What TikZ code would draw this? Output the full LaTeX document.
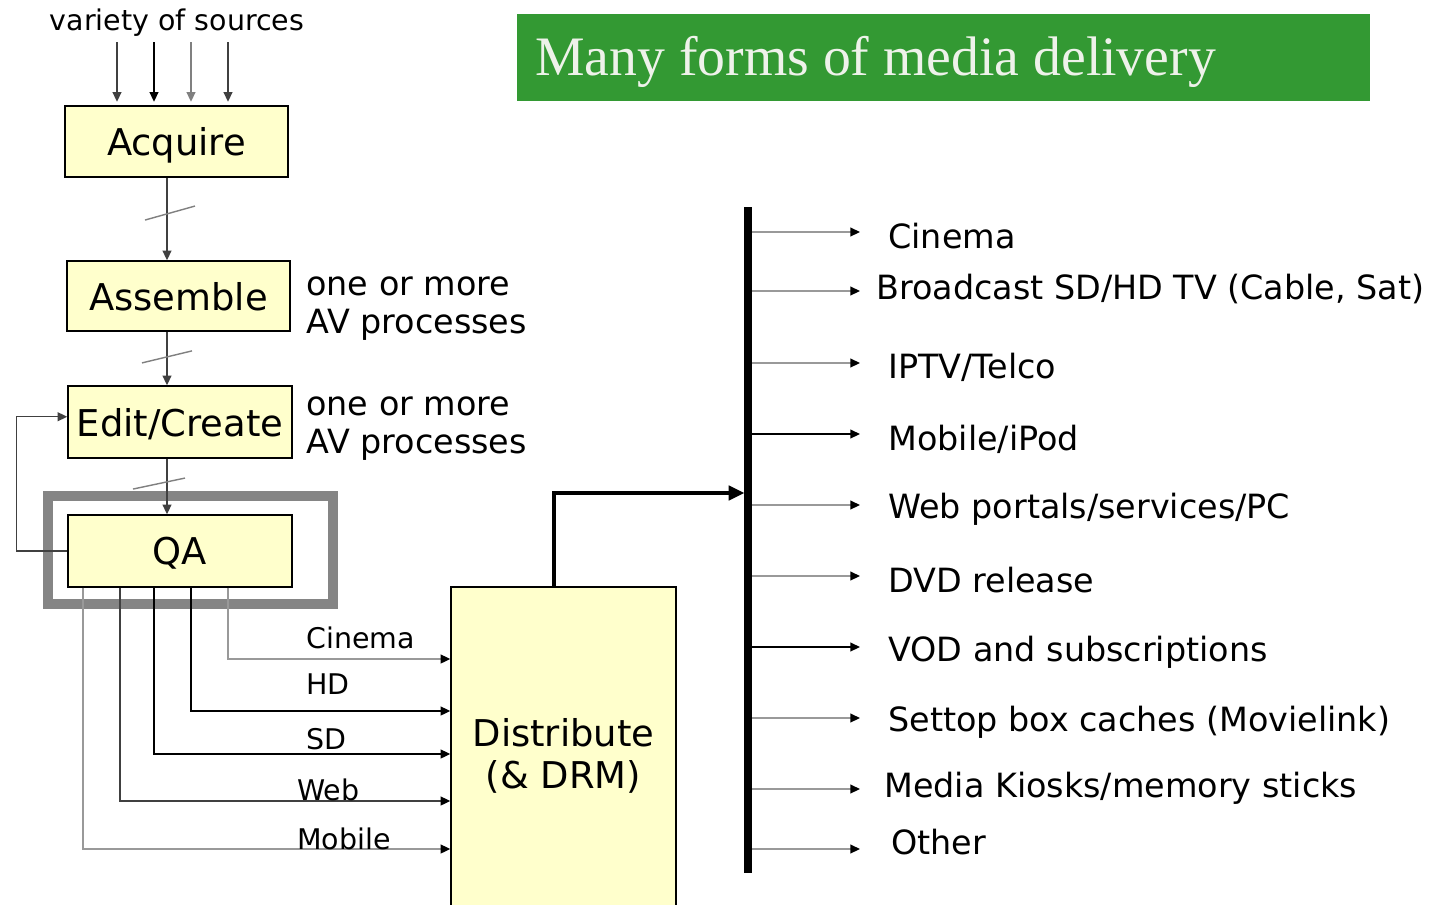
\documentclass[tikz,border=0pt]{standalone}
\usepackage{fontspec}
\setmainfont{DejaVu Sans}
\newfontfamily\titlefont{Liberation Serif}
\usetikzlibrary{arrows.meta}
\definecolor{boxyellow}{HTML}{FFFFCC}
\definecolor{titlegreen}{HTML}{339933}
\definecolor{linegray}{HTML}{999999}
\definecolor{framegray}{HTML}{858585}
\definecolor{titletext}{HTML}{EEF2EA}

\begin{document}
\begin{tikzpicture}[x=0.02cm, y=-0.02cm,
  >={Triangle[length=5.5pt,width=5pt]},
  box/.style={draw, line width=0.8pt, fill=boxyellow, inner sep=0pt, text depth=0pt, font=\fontsize{21}{24}\selectfont},
  flow/.style={->, line width=0.8pt},
  tap/.style={-{Triangle[length=5.5pt,width=5pt,color=black]}, line width=0.9pt},
  slash/.style={line width=0.8pt, gray},
  lbl/.style={inner sep=0pt, font=\fontsize{19}{21.5}\selectfont},
  small/.style={inner sep=0pt, font=\fontsize{16.2}{19}\selectfont}]

  \useasboundingbox (0,0) rectangle (1438,904);
  \fill[white] (0,0) rectangle (1438,904);

  % title
  \fill[titlegreen] (517,14) rectangle (1370,101);
  \node[anchor=west, inner sep=0pt, text=titletext, font=\titlefont\fontsize{31.7}{36}\selectfont] (title) at (535,62) {Many forms of media delivery};

  % pipeline boxes
  \node[small, anchor=base] (sources) at (177,30) {variety of sources};
  \node[box, minimum width=4.46cm, minimum height=1.42cm] (acquire) at (176.5,141.5) {Acquire};
  \node[box, minimum width=4.46cm, minimum height=1.40cm] (assemble) at (178.5,296) {Assemble};
  \node[box, minimum width=4.48cm, minimum height=1.44cm] (edit) at (180,422) {Edit/Create};
  \node[box, minimum width=4.48cm, minimum height=1.44cm] (qa) at (180,551) {QA};
  \node[box, minimum width=4.5cm, minimum height=6.66cm, align=center, font=\fontsize{21}{23.5}\selectfont] (dist) at (563.5,753.5) {Distribute\\(\& DRM)};

  \node[lbl, anchor=west, align=left] (note1) at (306,309) {one or more\\AV processes};
  \node[lbl, anchor=west, align=left] (note2) at (306,429) {one or more\\AV processes};

  % QA highlight
  \draw[framegray, line width=5.7pt] (48,496) rectangle (333,604);

  % sources into Acquire
  \foreach \x/\c [count=\i] in {117/darkgray, 154/black, 191/gray, 228/darkgray} {
    \coordinate (s\i) at (\x,42);
    \draw[flow, \c] (s\i) -- ([yshift=2pt]s\i |- acquire.north);
  }

  % main chain
  \coordinate (spine) at (167,0);
  \draw[flow, darkgray] (acquire.south -| spine) -- coordinate[pos=0.44] (cut1) (assemble.north -| spine);
  \draw[slash] ([shift={(-22,6)}]cut1) -- ([shift={(28,-8)}]cut1);
  \draw[flow, darkgray] (assemble.south -| spine) -- coordinate[pos=0.47] (cut2) (edit.north -| spine);
  \draw[slash] ([shift={(-25,6)}]cut2) -- ([shift={(25,-6)}]cut2);
  \draw[flow, darkgray] (edit.south -| spine) -- coordinate[pos=0.42] (cut3) (qa.north -| spine);
  \draw[slash] ([shift={(-34,7)}]cut3) -- ([shift={(18,-4)}]cut3);

  % feedback
  \draw[flow, darkgray] (qa.west) -- ++(-51,0) |- ([yshift=3pt]edit.west);

  % QA outputs into Distribute
  \foreach \x/\y/\by/\lx/\lab/\c [count=\i] in {228/659/648/306/Cinema/linegray, 191/711/694/306/HD/black, 154/754/749/306/SD/black, 120/801/800/297/Web/darkgray, 83/849/849/297/Mobile/linegray} {
    \coordinate (t\i) at (\x,\y);
    \draw[tap, \c] (t\i |- qa.south) -- (t\i) -- (t\i -| dist.west);
    \node[small, anchor=base west] (in\i) at (\lx,\by) {\lab};
  }

  % distribution bus
  \coordinate (bustop) at (748,207);
  \coordinate (busbot) at (748,873);
  \coordinate (up) at (554,493);
  \draw[line width=2.5pt, -{Triangle[length=9pt,width=8pt]}, shorten >=2pt] (up |- dist.north) -- (up) -- (up -| bustop);
  \draw[line width=4.6pt] (bustop) -- (busbot);

  \foreach \y/\ly/\lx/\lab/\c [count=\i] in {232/236/888/{Cinema}/linegray, 291/289/876/{Broadcast SD/HD TV (Cable, Sat)}/linegray, 363/367/888/{IPTV/Telco}/linegray, 434/439/888/{Mobile/iPod}/black, 505/509/888/{Web portals/services/PC}/linegray, 576/580/888/{DVD release}/linegray, 647/652/888/{VOD and subscriptions}/black, 718/722/888/{Settop box caches (Movielink)}/linegray, 789/788/884/{Media Kiosks/memory sticks}/linegray, 849/842/891/{Other}/linegray} {
    \coordinate (b\i) at (752,\y);
    \coordinate (e\i) at (860,\y);
    \draw[tap, \c] (b\i) -- (e\i);
    \node[lbl, anchor=west] (out\i) at (\lx,\ly) {\lab};
  }
\end{tikzpicture}
\end{document}
